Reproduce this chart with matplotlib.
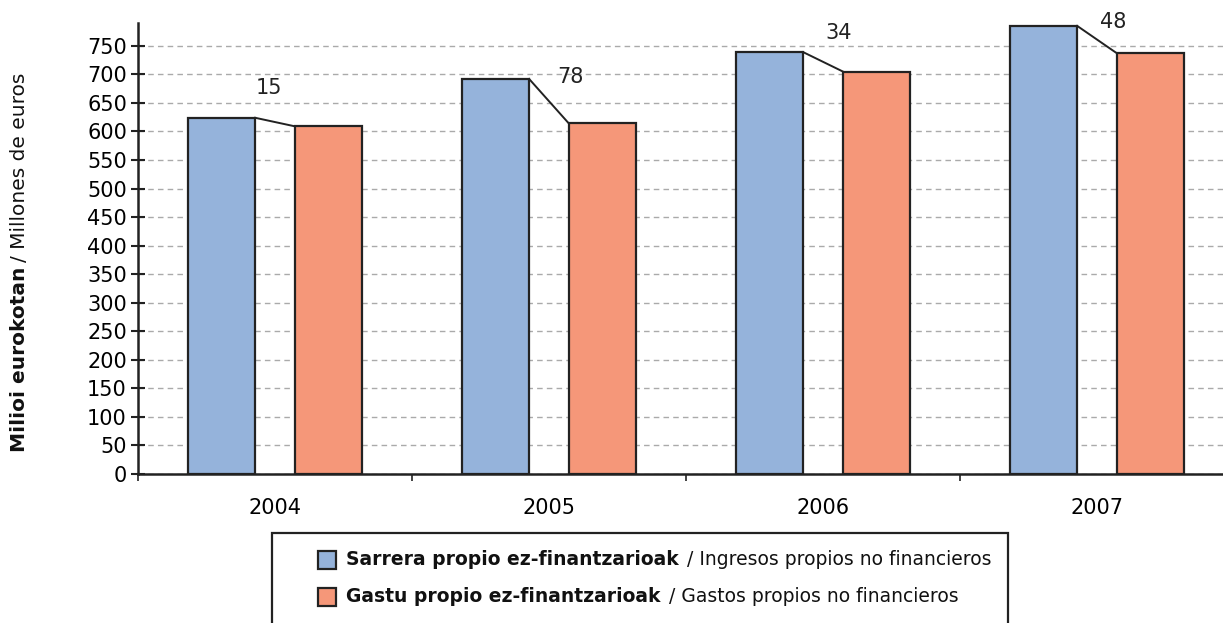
"""
Own non-financial revenue vs expenditure, 2004-2007.
"""

import matplotlib
matplotlib.use("Agg")
import matplotlib.pyplot as plt
from matplotlib.offsetbox import AnnotationBbox, DrawingArea, HPacker, TextArea, VPacker
from matplotlib.patches import Rectangle
import numpy as np

years = ["2004", "2005", "2006", "2007"]
revenue = [624, 692, 739, 785]
expenses = [609, 614, 705, 737]
differences = [15, 78, 34, 48]

BLUE = "#95b3db"
ORANGE = "#f59779"
EDGE = "#222222"
FONT = "DejaVu Sans"

plt.rcParams["font.family"] = FONT

fig = plt.figure(figsize=(12.23, 6.23), dpi=100)
ax = fig.add_axes([138 / 1223, 1 - 474 / 623, 1 - 138 / 1223, (474 - 23) / 623])

x = np.arange(len(years))
offset = 0.195
width = 0.245
ax.bar(x - offset, revenue, width, color=BLUE, edgecolor=EDGE, linewidth=1.6, zorder=3)
ax.bar(x + offset, expenses, width, color=ORANGE, edgecolor=EDGE, linewidth=1.6, zorder=3)

# line from revenue top-right corner to expense top-left corner + difference label
label_dx = [-0.022, 0.077, 0.058, 0.058]
label_lift = [52, 4, 34, 7]
for i in range(len(years)):
    x0 = x[i] - offset + width / 2
    x1 = x[i] + offset - width / 2
    ax.plot([x0, x1], [revenue[i], expenses[i]], color=EDGE, linewidth=1.4, zorder=4)
    ax.text(x[i] + label_dx[i], revenue[i] + label_lift[i], str(differences[i]),
            ha="center", va="center", fontsize=15, color="#222222", clip_on=False)

ax.set_yticks(np.arange(0, 751, 50))
ax.yaxis.grid(True, linestyle=(0, (4, 3)), color="#aaaaaa", linewidth=1.0, zorder=0)

ax.set_xticks(np.arange(-0.5, 3.6, 1.0))
ax.set_xticklabels([])
ax.set_xticks(x, minor=True)
ax.set_xticklabels(years, minor=True, fontsize=15)
ax.tick_params(axis="x", which="minor", length=0, pad=17)
ax.tick_params(axis="x", which="major", direction="out", length=5, width=1.2, color=EDGE)
ax.tick_params(axis="y", direction="inout", length=10, width=1.5, color=EDGE, labelsize=15, pad=3)

# limits after ticks, so set_xticks does not widen the view
ax.set_ylim(0, 790)
ax.set_xlim(-0.5, -0.5 + 1085 / 274)

for side in ["top", "right"]:
    ax.spines[side].set_visible(False)
for side in ["left", "bottom"]:
    ax.spines[side].set_linewidth(1.8)
    ax.spines[side].set_color(EDGE)

# y label: bold Basque part + regular Spanish part
fig.canvas.draw()
renderer = fig.canvas.get_renderer()
t1 = fig.text(20 / 1223, 1 - 452 / 623, "Milioi eurokotan", rotation=90, fontsize=14.5,
              fontweight="bold", ha="center", va="bottom", color="#111111")
ext = t1.get_window_extent(renderer)
fig.text(20 / 1223, (ext.y1 + 5) / fig.bbox.height, "/ Millones de euros", rotation=90,
         fontsize=14.5, ha="center", va="bottom", color="#111111")


def legend_row(color, bold, regular):
    square = DrawingArea(14, 14, 0, 0)
    square.add_artist(Rectangle((0, 0), 13, 13, facecolor=color, edgecolor=EDGE, linewidth=1.6))
    b = TextArea(bold, textprops=dict(fontsize=13.5, fontweight="bold", color="#111111"))
    r = TextArea("/ " + regular, textprops=dict(fontsize=13.5, color="#111111"))
    return HPacker(children=[square, b, r], align="center", pad=0, sep=6)


rows = VPacker(children=[
    legend_row(BLUE, "Sarrera propio ez-finantzarioak", "Ingresos propios no financieros"),
    legend_row(ORANGE, "Gastu propio ez-finantzarioak", "Gastos propios no financieros"),
], align="left", pad=0, sep=13)

# legend frame runs off the bottom of the image, as in the original
fig.add_artist(Rectangle((272 / 1223, -0.05), (1008 - 272) / 1223, 0.05 + (623 - 533) / 623,
                         transform=fig.transFigure, facecolor="white", edgecolor=EDGE,
                         linewidth=1.6))
box = AnnotationBbox(rows, (318 / 1223, 1 - 578 / 623), xycoords="figure fraction",
                     box_alignment=(0.0, 0.5), frameon=False, pad=0)
fig.add_artist(box)

fig.savefig("out.png", dpi=100)
